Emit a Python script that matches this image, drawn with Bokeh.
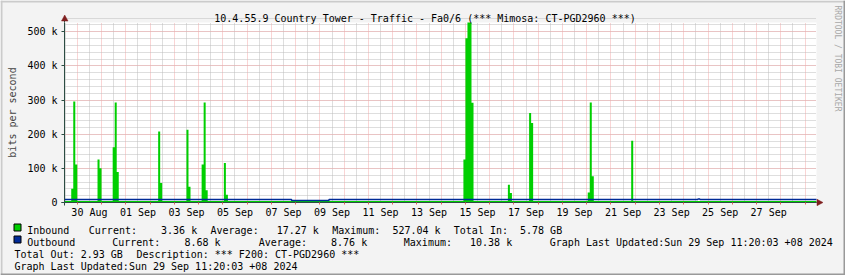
import math
import pandas as pd
from bokeh.plotting import figure
from bokeh.models import (FixedTicker, DatetimeTickFormatter, Label, PolyAnnotation,
                          BoxAnnotation, Range1d, Grid)
from bokeh.embed import file_html
from bokeh.resources import INLINE

# ---------------- data ----------------
x_start = "2024-08-29 11:20:03"
x_end = "2024-09-29 11:20:03"
y_max_k = 527.04

# inbound traffic (k bits/s): quiet baseline + spikes of 2-hour bins
inbound_base_k = 4.5
bin_hours = 2
inbound_spike_starts = [
    "2024-08-29 18:00", "2024-08-30 20:00", "2024-08-31 11:00", "2024-09-02 08:00",
    "2024-09-03 12:00", "2024-09-04 03:00", "2024-09-05 01:00", "2024-09-14 22:00",
    "2024-09-16 18:00", "2024-09-17 15:00", "2024-09-20 01:00", "2024-09-21 20:00",
]
inbound_spike_values_k = [
    [40, 296, 111], [126, 100], [162, 293, 89], [208, 57],
    [213, 46], [111, 293, 36], [116, 23], [126, 481, 527.04, 527.04, 292],
    [52, 28], [262, 233], [29, 293, 77], [181],
]

# outbound traffic (k bits/s): value holds from each time to the next
outbound_times = ["2024-08-29 11:20:03", "2024-09-07 20:00", "2024-09-09 09:00",
                  "2024-09-24 14:00", "2024-09-24 16:00"]
outbound_values_k = [8.8, 6.2, 8.8, 10.38, 8.7]

y_ticks = [0, 100, 200, 300, 400, 500]
y_tick_labels = ["0", "100 k", "200 k", "300 k", "400 k", "500 k"]
y_minor_step = 20
x_label_days = ["2024-08-30", "2024-09-01", "2024-09-03", "2024-09-05", "2024-09-07",
                "2024-09-09", "2024-09-11", "2024-09-13", "2024-09-15", "2024-09-17",
                "2024-09-19", "2024-09-21", "2024-09-23", "2024-09-25", "2024-09-27"]

title_text = "10.4.55.9 Country Tower - Traffic - Fa0/6 (*** Mimosa: CT-PGD2960 ***)"
y_axis_title = "bits per second"
updated = "Graph Last Updated:Sun 29 Sep 11:20:03 +08 2024"
# legend tokens: (text, left x in canvas px)
CW = 6.02  # monospace advance
legend_rows = [
    [("Inbound", 26.7),
     ("Current:", 88.3), ("3.36 k", 88.3 + 12 * CW),
     ("Average:", 210.0), ("17.27 k", 210.0 + 11 * CW),
     ("Maximum:", 331.7), ("527.04 k", 331.7 + 10 * CW),
     ("Total In:", 453.3), ("5.78 GB", 453.3 + 11 * CW)],
    [("Outbound", 26.7),
     ("Current:", 111.7), ("8.68 k", 111.7 + 12 * CW),
     ("Average:", 258.3), ("8.76 k", 258.3 + 12 * CW),
     ("Maximum:", 403.3), ("10.38 k", 403.3 + 11 * CW),
     (updated, 549.3)],
    [("Total Out:", 14.0), ("2.93 GB", 14.0 + 11 * CW),
     ("Description:", 136.0), ("*** F200: CT-PGD2960 ***", 136.0 + 13 * CW)],
    [(updated, 14.0)],
]
legend_baselines = [230.0, 242.3, 254.0, 266.0]
watermark = "RRDTOOL / TOBI OETIKER"

# ---------------- layout / style constants ----------------
W, H = 845, 275
X0, X1, YT, YB = 64, 816, 22, 202       # data area in canvas pixels
FONT = "DejaVu Sans Mono"
GREEN = "#00CF00"
BLUE = "#002A97"
AXIS = "#2C4D43"
ARROW = "#7F1F1F"
BACK = "#F3F3F3"
MGRID = "#F4ABAB"
GRID = "#BCBCBC"

# ---------------- build step series ----------------
t0 = pd.Timestamp(x_start)
t1 = pd.Timestamp(x_end)
ix, iy = [t0], [inbound_base_k]
for s, vals in zip(inbound_spike_starts, inbound_spike_values_k):
    st = pd.Timestamp(s)
    ix.append(st); iy.append(inbound_base_k)
    b = st
    for k, v in enumerate(vals):
        a = st + pd.Timedelta(hours=bin_hours * k)
        b = a + pd.Timedelta(hours=bin_hours)
        ix += [a, b]; iy += [v, v]
    ix.append(b); iy.append(inbound_base_k)
ix.append(t1); iy.append(inbound_base_k)
ix = [t.to_pydatetime() for t in ix]

ox, oy = [], []
ends = outbound_times[1:] + [x_end]
for s, e, v in zip(outbound_times, ends, outbound_values_k):
    ox += [pd.Timestamp(s).to_pydatetime(), pd.Timestamp(e).to_pydatetime()]
    oy += [v, v]

# ---------------- ranges: frame = whole canvas ----------------
ms0 = t0.value / 1e6
ms1 = t1.value / 1e6
mpp = (ms1 - ms0) / (X1 - X0)
kpp = y_max_k / (YB - YT)
x_range = Range1d(ms0 - X0 * mpp, ms1 + (W - X1) * mpp)
y_range = Range1d(-(H - YB) * kpp, y_max_k + YT * kpp)

p = figure(width=W, height=H, x_axis_type="datetime", output_backend="svg",
           toolbar_location=None, title=None,
           min_border_left=0, min_border_right=0, min_border_top=0, min_border_bottom=0,
           x_range=x_range, y_range=y_range)
p.border_fill_color = BACK
p.background_fill_color = BACK
p.outline_line_color = None

# white canvas of the graph area
p.add_layout(BoxAnnotation(left=ms0, right=ms1, bottom=0, top=y_max_k,
                           fill_color="#FFFFFF", fill_alpha=1.0, line_alpha=0.0,
                           level="image"))

midnights = pd.date_range("2024-08-30", "2024-09-29", freq="1D")
noons = pd.date_range("2024-08-29 12:00", "2024-09-29 00:00", freq="1D")
ms = lambda idx: [t.value / 1e6 for t in idx]
label_pos = [pd.Timestamp(d) + pd.Timedelta(hours=12) for d in x_label_days]
yminor = list(range(0, 541, y_minor_step))

# grid
p.xgrid.ticker = FixedTicker(ticks=ms(midnights), minor_ticks=ms(noons))
p.xgrid.bounds = (ms0, ms1)
p.ygrid.ticker = FixedTicker(ticks=y_ticks, minor_ticks=yminor)
p.ygrid.bounds = (0, y_max_k)
if "cross_bounds" in Grid.properties():
    p.xgrid.cross_bounds = (0, y_max_k)
    p.ygrid.cross_bounds = (ms0, ms1)
for g in (p.xgrid, p.ygrid):
    g.grid_line_color = MGRID
    g.grid_line_dash = "1 1"
    g.minor_grid_line_color = GRID
    g.minor_grid_line_dash = "1 1"

# data
p.varea(x=ix, y1=[0] * len(iy), y2=iy, fill_color=GREEN)
p.line(x=ox, y=oy, line_color=BLUE, line_width=1.5)

# axes at fixed data locations
xa = p.xaxis[0]
xa.fixed_location = 0
xa.bounds = (ms0, ms1)
xa.ticker = FixedTicker(ticks=ms(label_pos), minor_ticks=ms(midnights))
fmt = "%d %b"
xa.formatter = DatetimeTickFormatter(microseconds=fmt, milliseconds=fmt, seconds=fmt,
                                     minsec=fmt, minutes=fmt, hourmin=fmt, hours=fmt,
                                     days=fmt, months=fmt, years=fmt)
xa.axis_line_color = AXIS
xa.major_tick_line_color = None
xa.major_tick_out = 2
xa.major_tick_in = 0
xa.minor_tick_line_color = "#E06060"
xa.minor_tick_out = 2
xa.minor_tick_in = 0
xa.major_label_standoff = 2
xa.major_label_text_font = FONT
xa.major_label_text_font_size = "10px"
xa.major_label_text_color = "#000000"

ya = p.yaxis[0]
ya.fixed_location = ms0
ya.bounds = (0, y_max_k)
ya.ticker = FixedTicker(ticks=y_ticks, minor_ticks=yminor)
ya.major_label_overrides = {t: l for t, l in zip(y_ticks, y_tick_labels)}
ya.axis_line_color = AXIS
ya.major_tick_line_color = AXIS
ya.major_tick_out = 3
ya.major_tick_in = 0
ya.minor_tick_line_color = None
ya.major_label_standoff = 3
ya.major_label_text_font = FONT
ya.major_label_text_font_size = "10px"
ya.major_label_text_color = "#000000"
ya.axis_label = y_axis_title
ya.axis_label_text_font = FONT
ya.axis_label_text_font_size = "10px"
ya.axis_label_text_font_style = "normal"
ya.axis_label_standoff = 6

# ---------------- canvas decorations ----------------
def box(l, r, t, b, color, line=None):
    p.add_layout(BoxAnnotation(left=l, right=r, top=t, bottom=b,
                               left_units="canvas", right_units="canvas",
                               top_units="canvas", bottom_units="canvas",
                               fill_color=color, fill_alpha=1.0,
                               line_color=line if line else color,
                               line_alpha=1.0 if line else 0.0,
                               level="overlay"))

# shade border
box(0, W, 0, 2, "#CBCBCB")
box(0, 2, 0, H, "#CBCBCB")
box(0, W, H - 2, H, "#999999")
box(W - 2, W, 0, H, "#999999")

# axis extensions beyond the graph area
box(X0 - 0.5, X0 + 0.5, 18, YT, AXIS)
box(X0 - 0.5, X0 + 0.5, YB, YB + 3, AXIS)
box(X0 - 3, X0, YB - 0.5, YB + 0.5, AXIS)
box(X1, X1 + 2, YB - 0.5, YB + 0.5, AXIS)

def tri(xs, ys):
    p.add_layout(PolyAnnotation(xs=xs, ys=ys, xs_units="canvas", ys_units="canvas",
                                fill_color=ARROW, fill_alpha=1.0, line_color=ARROW,
                                line_alpha=1.0, line_width=0.5, level="overlay"))

tri([61.0, 67.5, 64.2], [20.5, 20.5, 14.5])
tri([816.5, 816.5, 822.5], [198.8, 205.2, 202.0])

# title
p.add_layout(Label(x=424.5, y=18.3, x_units="canvas", y_units="canvas", text=title_text,
                   text_font=FONT, text_font_size="10px", text_align="center",
                   text_baseline="alphabetic", text_color="#000000"))

# watermark
p.add_layout(Label(x=836.5, y=5, x_units="canvas", y_units="canvas", text=watermark,
                   text_font=FONT, text_font_size="8px", text_align="left",
                   text_baseline="middle", angle=-math.pi / 2, text_color="#A8A8A8"))

# legend swatches
box(13.5, 20.5, 223.5, 230.5, GREEN, "#000000")
box(13.5, 20.5, 235.5, 242.5, BLUE, "#000000")

for row, base in zip(legend_rows, legend_baselines):
    for txt, x in row:
        p.add_layout(Label(x=x, y=base, x_units="canvas", y_units="canvas", text=txt,
                           text_font=FONT, text_font_size="10px", text_align="left",
                           text_baseline="alphabetic", text_color="#000000"))

open("out.html", "w").write(file_html(p, INLINE))
